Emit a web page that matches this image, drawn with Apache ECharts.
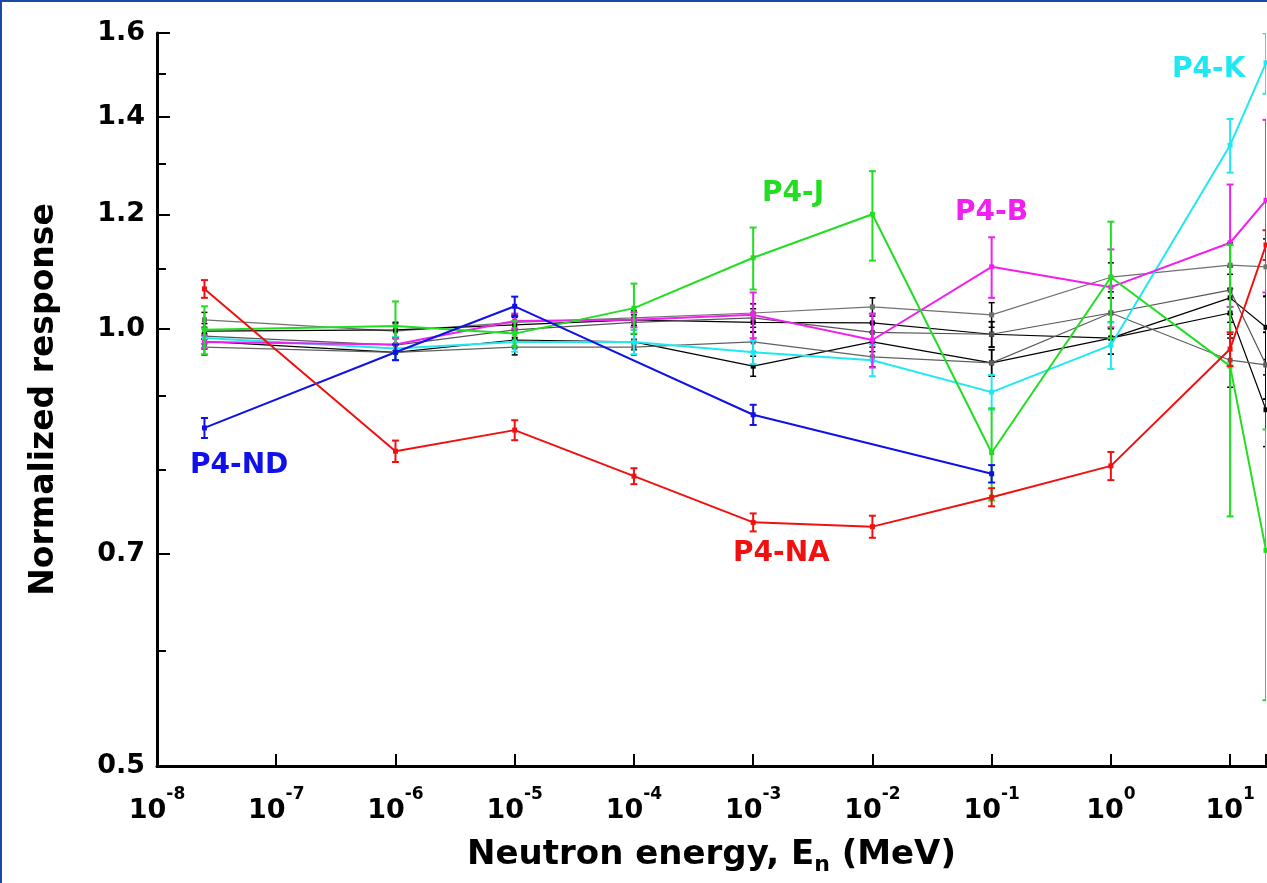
<!DOCTYPE html>
<html>
<head>
<meta charset="utf-8">
<script src="https://cdn.jsdelivr.net/npm/echarts@6/dist/echarts.min.js"></script>
<style>
html,body{margin:0;padding:0;background:#fff;overflow:hidden;}
#chart{position:absolute;left:0;top:0;width:1267px;height:883px;}
#frame{position:absolute;left:0;top:0;width:1267px;height:883px;box-sizing:border-box;border-top:2px solid #1a4aa8;border-left:2px solid #1a4aa8;pointer-events:none;}
</style>
</head>
<body>
<div id="chart"></div>
<div id="frame"></div>
<script>
// Neutron energies (MeV)
const energies = [2.5e-8, 1e-6, 1e-5, 1e-4, 1e-3, 1e-2, 1e-1, 1, 10, 20];
const xTickExponents = [-8, -7, -6, -5, -4, -3, -2, -1, 0, 1];
const yMajorTicks = [0.5, 0.7, 1.0, 1.2, 1.4, 1.6];
const yMinorTicks = [0.6, 0.8, 0.9, 1.1, 1.3, 1.5];

// Labelled dosimeters
const p4NA = [1.066, 0.824, 0.852, 0.792, 0.736, 0.731, 0.766, 0.805, 0.969, 1.143];
const p4NAerr = [0.015, 0.014, 0.0135, 0.010, 0.0105, 0.0128, 0.011, 0.018, 0.026, 0.027];
const p4ND = [0.855, 0.964, 1.037, null, 0.873, null, 0.795, null, null, null];
const p4NDerr = [0.0136, 0.012, 0.016, null, 0.014, null, 0.011, null, null, null];
const p4J = [0.999, 1.005, 0.993, 1.034, 1.12, 1.20, 0.822, 1.086, 0.943, 0.704];
const p4Jerr = [0.038, 0.04, 0.02, 0.041, 0.055, 0.085, 0.06, 0.1, 0.2, 0.149];
const p4B = [0.980, 0.976, 1.013, 1.015, 1.023, 0.983, 1.104, 1.069, 1.147, 1.227];
const p4Berr = [0.01, 0.01, 0.012, 0.012, 0.037, 0.042, 0.053, 0.066, 0.111, 0.167];
const p4K = [0.986, 0.970, 0.980, 0.980, 0.964, 0.952, 0.905, 0.975, 1.339, 1.526];
const p4Kerr = [0.015, 0.018, 0.015, 0.019, 0.018, 0.024, 0.025, 0.036, 0.057, 0.073];

// Other (unlabelled) dosimeters
const other1 = [1.015, 0.997, 1.011, 1.018, 1.026, 1.036, 1.023, 1.086, 1.107, 1.104];
const other2 = [0.997, 0.999, 1.007, 1.015, 1.011, 1.010, 0.992, 0.986, 1.051, 1.003];
const other3 = [0.989, 0.975, 0.999, 1.011, 1.018, 0.995, 0.992, 1.026, 1.064, 0.945];
const other4 = [0.981, 0.964, 0.983, 0.980, 0.943, 0.980, 0.948, 0.986, 1.026, 0.880];
const other5 = [0.972, 0.964, 0.972, 0.972, 0.980, 0.957, 0.948, 1.026, 0.952, 0.945];
const otherErr = [0.012, 0.012, 0.012, 0.012, 0.015, 0.015, 0.02, 0.025, 0.04, 0.05];

const FONT = '"DejaVu Sans", Verdana, sans-serif';
const L = Math.log10;

function lineSeries(name, vals, color, width, z) {
  const data = [];
  vals.forEach((v, i) => { if (v != null) data.push([L(energies[i]), L(v)]); });
  return {
    type: 'line', name, data, z,
    symbol: 'rect', symbolSize: 5,
    itemStyle: { color },
    lineStyle: { color, width },
    emphasis: { disabled: true },
    animation: false
  };
}
function errSeries(name, vals, errs, color, width, cap, z) {
  const data = [];
  vals.forEach((v, i) => {
    if (v == null) return;
    data.push([L(energies[i]), L(v - errs[i]), L(v + errs[i])]);
  });
  return {
    type: 'custom', name: name + ' err', data, z, clip: true,
    encode: { x: 0, y: [1, 2] },
    animation: false,
    renderItem: (params, api) => {
      const x = api.value(0);
      const lo = api.coord([x, api.value(1)]);
      const hi = api.coord([x, api.value(2)]);
      const st = { stroke: color, lineWidth: width };
      return {
        type: 'group',
        children: [
          { type: 'line', shape: { x1: lo[0], y1: lo[1], x2: hi[0], y2: hi[1] }, style: st },
          { type: 'line', shape: { x1: lo[0] - cap, y1: lo[1], x2: lo[0] + cap, y2: lo[1] }, style: st },
          { type: 'line', shape: { x1: hi[0] - cap, y1: hi[1], x2: hi[0] + cap, y2: hi[1] }, style: st }
        ]
      };
    }
  };
}

const RED = '#f01010', BLUE = '#1010e8', GREEN = '#22dd22', MAG = '#f020f0', CYAN = '#20e8f0';

const others = [
  [other1, '#707070'], [other2, '#000000'], [other3, '#555555'], [other4, '#000000'], [other5, '#606060']
];

const series = [];
others.forEach((o, k) => {
  series.push(lineSeries('other' + k, o[0], o[1], 1.2, 2));
  series.push(errSeries('other' + k, o[0], otherErr, '#000000', 1.5, 3, 2));
});
const colored = [
  ['P4-K', p4K, p4Kerr, CYAN],
  ['P4-B', p4B, p4Berr, MAG],
  ['P4-J', p4J, p4Jerr, GREEN],
  ['P4-ND', p4ND, p4NDerr, BLUE],
  ['P4-NA', p4NA, p4NAerr, RED]
];
colored.forEach((c, k) => {
  series.push(lineSeries(c[0], c[1], c[3], 2, 5 + k));
  series.push(errSeries(c[0], c[1], c[2], c[3], 2, 3.5, 5 + k));
});

const labelStyle = (fill) => ({ fill, font: 'bold 28px ' + FONT });
const graphic = [
  { type: 'text', left: 190, top: 452, style: Object.assign({ text: 'P4-ND' }, labelStyle(BLUE)) },
  { type: 'text', left: 733, top: 540, style: Object.assign({ text: 'P4-NA' }, labelStyle(RED)) },
  { type: 'text', left: 762, top: 180, style: Object.assign({ text: 'P4-J' }, labelStyle(GREEN)) },
  { type: 'text', left: 955, top: 199, style: Object.assign({ text: 'P4-B' }, labelStyle(MAG)) },
  { type: 'text', left: 1172, top: 56, style: Object.assign({ text: 'P4-K' }, labelStyle(CYAN)) }
];

const chart = echarts.init(document.getElementById('chart'), null, { renderer: 'canvas', width: 1267, height: 883 });
chart.setOption({
  animation: false,
  backgroundColor: '#ffffff',
  grid: { left: 157, right: 1, top: 33, bottom: 117, containLabel: false, outerBoundsMode: 'none' },
  xAxis: {
    type: 'value', min: -8, max: L(20), interval: 1,
    splitLine: { show: false },
    axisLine: { onZero: false, lineStyle: { color: '#000', width: 3 } },
    axisTick: { inside: true, length: 12, lineStyle: { color: '#000', width: 2 } },
    axisLabel: {
      margin: 20,
      formatter: (v) => {
        const r = Math.round(v);
        if (Math.abs(v - r) > 1e-6 || xTickExponents.indexOf(r) < 0) return '';
        return '{b|10}{s|' + r + '}';
      },
      rich: {
        b: { fontFamily: FONT, fontWeight: 'bold', fontSize: 27, color: '#000', lineHeight: 38, verticalAlign: 'bottom' },
        s: { fontFamily: FONT, fontWeight: 'bold', fontSize: 17, color: '#000', lineHeight: 20, verticalAlign: 'top' }
      }
    },
    name: '{t|Neutron energy, E}{sub|n}{t| (MeV)}',
    nameLocation: 'middle', nameGap: 68,
    nameTextStyle: {
      rich: {
        t: { fontFamily: FONT, fontWeight: 'bold', fontSize: 34, color: '#000', lineHeight: 42 },
        sub: { fontFamily: FONT, fontWeight: 'bold', fontSize: 22, color: '#000', lineHeight: 22, padding: [22, 0, 0, 0], verticalAlign: 'bottom' }
      }
    }
  },
  yAxis: [
    {
      type: 'value', min: L(0.5), max: L(1.6),
      splitLine: { show: false },
      axisLine: { onZero: false, lineStyle: { color: '#000', width: 3 } },
      axisTick: { inside: true, length: 13, lineStyle: { color: '#000', width: 2 }, customValues: yMajorTicks.map(L) },
      axisLabel: {
        margin: 12, fontFamily: FONT, fontWeight: 'bold', fontSize: 27, color: '#000',
        customValues: yMajorTicks.map(L),
        formatter: (v) => Math.pow(10, v).toFixed(1)
      },
      name: 'Normalized response', nameLocation: 'middle', nameGap: 96, nameRotate: 90,
      nameTextStyle: { fontFamily: FONT, fontWeight: 'bold', fontSize: 33, color: '#000' }
    },
    {
      type: 'value', min: L(0.5), max: L(1.6), position: 'left',
      splitLine: { show: false },
      axisLine: { show: false, onZero: false },
      axisLabel: { show: false },
      axisTick: { show: true, inside: true, length: 9, lineStyle: { color: '#000', width: 2 }, customValues: yMinorTicks.map(L) }
    }
  ],
  graphic,
  series
});
</script>
</body>
</html>
